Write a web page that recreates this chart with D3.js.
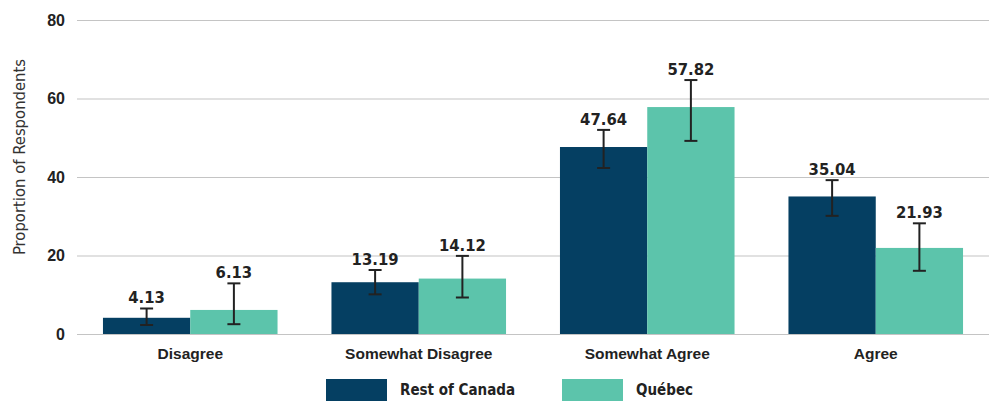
<!DOCTYPE html>
<html>
<head>
<meta charset="utf-8">
<script src="https://cdn.jsdelivr.net/npm/d3@7"></script>
<style>
  html, body { margin: 0; padding: 0; background: #fff; }
  svg { display: block; font-family: "DejaVu Sans Condensed", "Liberation Sans Narrow", "Roboto", sans-serif; }
</style>
</head>
<body>
<svg id="chart" width="989" height="401"></svg>
<script>
// Survey responses by region, with confidence intervals
const categories = ["Disagree", "Somewhat Disagree", "Somewhat Agree", "Agree"];
const seriesNames = ["Rest of Canada", "Québec"];
const restOfCanada = [4.13, 13.19, 47.64, 35.04];
const quebec = [6.13, 14.12, 57.82, 21.93];
const restOfCanadaLow = [2.3, 10.1, 42.3, 30.1];
const restOfCanadaHigh = [6.5, 16.3, 52.0, 39.2];
const quebecLow = [2.5, 9.3, 49.2, 16.1];
const quebecHigh = [12.9, 19.9, 64.7, 28.2];
const yTicks = [0, 20, 40, 60, 80];
const colors = ["#053f62", "#5cc4ab"];

const series = [
  { name: seriesNames[0], values: restOfCanada, low: restOfCanadaLow, high: restOfCanadaHigh },
  { name: seriesNames[1], values: quebec, low: quebecLow, high: quebecHigh }
];

const svg = d3.select("#chart");

const x0 = d3.scaleBand().domain(categories).range([76, 990]).paddingInner(0.236).paddingOuter(0.118);
const x1 = d3.scaleBand().domain(seriesNames).range([0, x0.bandwidth()]);
const y = d3.scaleLinear().domain([0, 80]).range([334, 20]);
const color = d3.scaleOrdinal().domain(seriesNames).range(colors);

// gridlines and y tick labels
const yAxis = svg.append("g")
  .attr("transform", "translate(77,0)")
  .call(d3.axisLeft(y).tickValues(yTicks).tickSize(-912).tickPadding(12));
yAxis.select(".domain").remove();
yAxis.selectAll(".tick line").attr("stroke", "#c4c4c4").attr("stroke-width", 1.2);
yAxis.selectAll(".tick text")
  .attr("font-size", 16).attr("font-weight", "bold").attr("fill", "#222")
  .attr("font-family", "inherit");

// y axis title
svg.append("text")
  .attr("transform", "translate(25,157) rotate(-90)")
  .attr("text-anchor", "middle")
  .attr("font-size", 16.5)
  .attr("fill", "#333")
  .text("Proportion of Respondents");

// bars
const groups = svg.append("g").selectAll("g")
  .data(categories)
  .join("g")
  .attr("transform", c => `translate(${x0(c)},0)`);

series.forEach(s => {
  groups.append("rect")
    .attr("x", x1(s.name))
    .attr("width", x1.bandwidth())
    .attr("y", (c, i) => y(s.values[i]))
    .attr("height", (c, i) => y(0) - y(s.values[i]))
    .attr("fill", color(s.name));
});

// error bars and value labels
series.forEach(s => {
  const cx = x1(s.name) + x1.bandwidth() / 2;
  groups.append("line")
    .attr("x1", cx).attr("x2", cx)
    .attr("y1", (c, i) => y(s.low[i]))
    .attr("y2", (c, i) => y(s.high[i]))
    .attr("stroke", "#222").attr("stroke-width", 2);
  [s.low, s.high].forEach(arr => {
    groups.append("line")
      .attr("x1", cx - 6.5).attr("x2", cx + 6.5)
      .attr("y1", (c, i) => y(arr[i]))
      .attr("y2", (c, i) => y(arr[i]))
      .attr("stroke", "#222").attr("stroke-width", 2);
  });
  groups.append("text")
    .attr("x", cx)
    .attr("y", (c, i) => y(s.high[i]) - 5)
    .attr("text-anchor", "middle")
    .attr("font-size", 16.5)
    .attr("font-weight", "bold")
    .attr("fill", "#222")
    .text((c, i) => s.values[i].toFixed(2));
});

// category labels
const xAxis = svg.append("g")
  .attr("transform", "translate(0,334)")
  .call(d3.axisBottom(x0).tickSize(0).tickPadding(14));
xAxis.select(".domain").remove();
xAxis.selectAll(".tick text")
  .attr("font-size", 15.5).attr("font-weight", "bold").attr("fill", "#222")
  .attr("font-family", "inherit");

// legend
const legendX = [326, 562];
series.forEach((s, si) => {
  const g = svg.append("g").attr("transform", `translate(${legendX[si]},379)`);
  g.append("rect").attr("width", 61).attr("height", 22).attr("fill", color(s.name));
  g.append("text")
    .attr("x", 74).attr("y", 16)
    .attr("font-size", 15).attr("font-weight", "bold").attr("fill", "#222")
    .text(s.name);
});
</script>
</body>
</html>
